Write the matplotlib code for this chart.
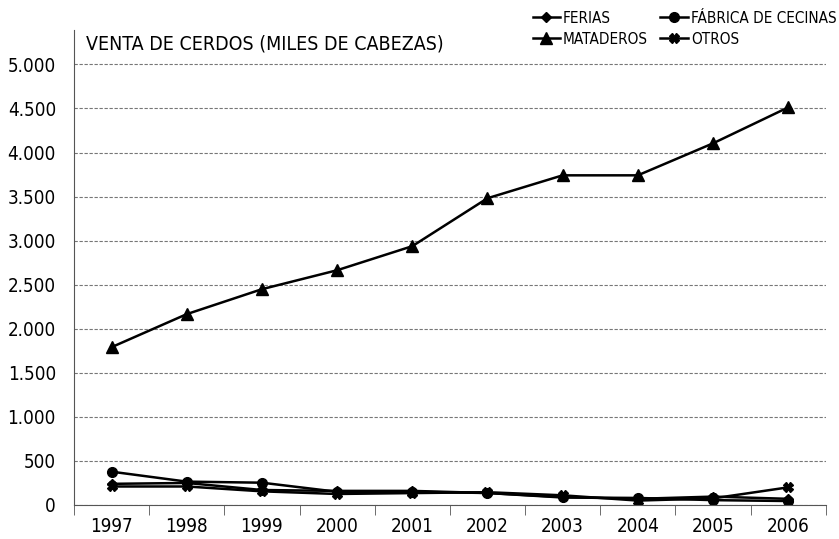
import numpy as np
import matplotlib.pyplot as plt
from matplotlib.ticker import FuncFormatter

plt.rcParams['font.family'] = ['Liberation Sans Narrow', 'DejaVu Sans']
plt.rcParams['font.stretch'] = 'condensed'

# Data (miles de cabezas)
years = ['1997', '1998', '1999', '2000', '2001', '2002', '2003', '2004', '2005', '2006']
ferias = [240, 250, 170, 160, 160, 136, 90, 70, 95, 70]
fabrica = [378, 265, 253, 150, 150, 136, 85, 80, 55, 45]
mataderos = [1791, 2166, 2449, 2664, 2937, 3481, 3741, 3741, 4104, 4512]
otros = [210, 210, 155, 125, 135, 145, 110, 50, 75, 200]

x = np.arange(len(years))

fig = plt.figure(figsize=(8.39, 5.39), dpi=100)
ax = fig.add_axes([0.0882, 0.0631, 0.896, 0.8812])

kw = dict(color='black', lw=1.8)
l1, = ax.plot(x, ferias, marker='D', ms=5, label='FERIAS', **kw)
l2, = ax.plot(x, fabrica, marker='o', ms=7, label='FÁBRICA DE CECINAS', **kw)
l3, = ax.plot(x, mataderos, marker='^', ms=8, label='MATADEROS', **kw)
l4, = ax.plot(x, otros, marker='X', ms=7, label='OTROS', **kw)

ax.set_xlim(-0.5, len(years) - 0.5)
ax.set_ylim(0, 5390)
ax.set_yticks(np.arange(0, 5001, 500))
ax.yaxis.set_major_formatter(FuncFormatter(lambda v, p: f'{int(v):,}'.replace(',', '.')))
ax.grid(axis='y', color='#777777', ls=(0, (3, 1.5)), lw=0.8)
ax.set_axisbelow(True)

ax.set_xticks(x)
ax.set_xticklabels(years)
ax.set_xticks(np.arange(-0.5, len(years)), minor=True)
ax.tick_params(axis='x', which='major', length=0, pad=9, labelsize=13.5)
ax.tick_params(axis='x', which='minor', length=7, color='#555555', direction='out')
ax.tick_params(axis='y', length=0, pad=13, labelsize=13.5)

for s in ['top', 'right']:
    ax.spines[s].set_visible(False)
ax.spines['left'].set_color('#555555')
ax.spines['bottom'].set_color('#555555')

ax.text(0.016, 0.97, 'VENTA DE CERDOS (MILES DE CABEZAS)', transform=ax.transAxes,
        fontsize=14, va='center', ha='left')

fig.legend([l1, l3, l2, l4], ['FERIAS', 'MATADEROS', 'FÁBRICA DE CECINAS', 'OTROS'],
           ncol=2, loc='upper left', bbox_to_anchor=(0.622, 1.0), frameon=False,
           fontsize=11, handlelength=1.8, handletextpad=0.2, columnspacing=0.8,
           labelspacing=0.4, borderpad=0.2)

fig.savefig('out.png', dpi=100)
